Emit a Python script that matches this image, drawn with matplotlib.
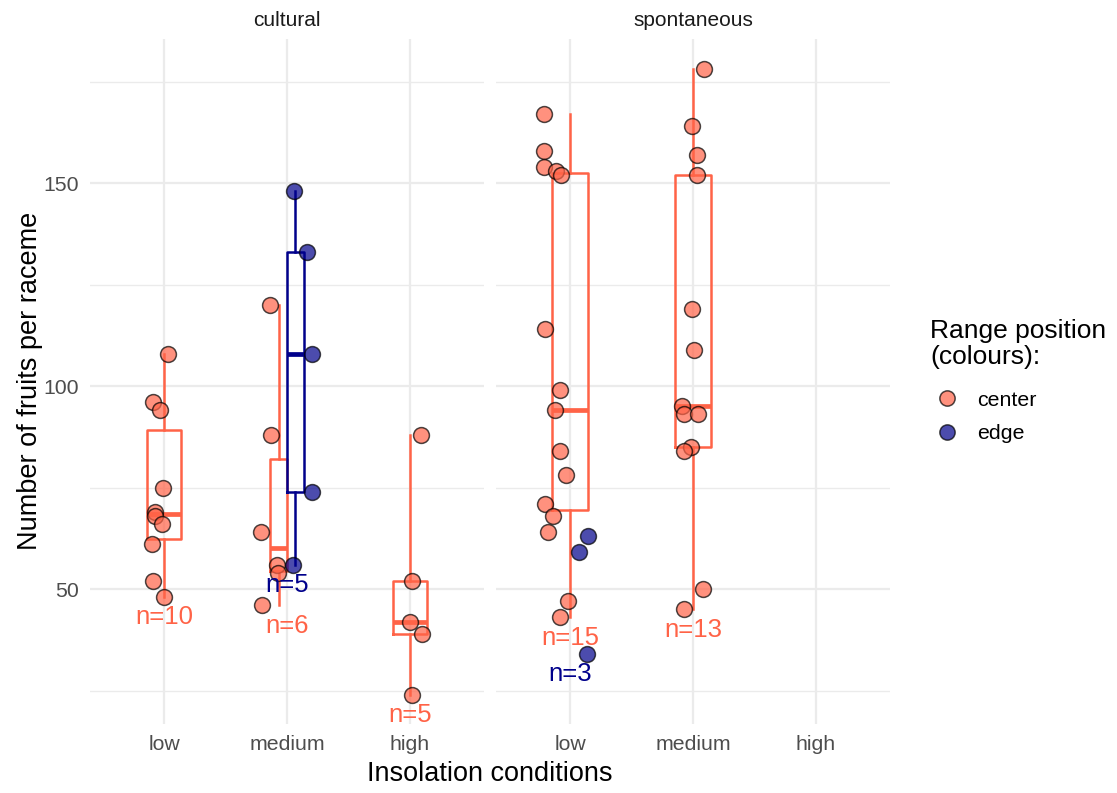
import matplotlib.pyplot as plt
from matplotlib.lines import Line2D

plt.rcParams['font.family'] = ['Liberation Sans', 'DejaVu Sans']

conditions = ['low', 'medium', 'high']
origins = ['cultural', 'spontaneous']
positions_range = ['center', 'edge']

# fruits per raceme
cult_low_center = [108, 96, 94, 75, 69, 68, 66, 61, 52, 48]
cult_med_center = [120, 88, 64, 56, 54, 46]
cult_med_edge = [148, 133, 108, 74, 56]
cult_high_center = [88, 52, 42, 39, 24]
spon_low_center = [167, 158, 154, 153, 152, 114, 99, 94, 84, 78, 71, 68, 64, 47, 43]
spon_low_edge = [63, 59, 34]
spon_med_center = [178, 164, 157, 152, 119, 109, 95, 93, 93, 85, 84, 50, 45]

# horizontal jitter of each point (in category units), as it looks in the picture
cult_low_center_jit = [0.03, -0.09, -0.03, -0.01, -0.07, -0.07, -0.02, -0.10, -0.09, 0.0]
cult_med_center_jit = [-0.14, -0.13, -0.21, -0.08, -0.07, -0.20]
cult_med_edge_jit = [0.06, 0.16, 0.20, 0.20, 0.05]
cult_high_center_jit = [0.09, 0.02, 0.0, 0.10, 0.02]
spon_low_center_jit = [-0.21, -0.21, -0.21, -0.11, -0.07, -0.20, -0.08, -0.12,
                       -0.08, -0.03, -0.20, -0.14, -0.18, -0.02, -0.08]
spon_low_edge_jit = [0.15, 0.07, 0.14]
spon_med_center_jit = [0.09, -0.01, 0.03, 0.03, -0.01, 0.01, -0.09, -0.07,
                       0.04, -0.02, -0.07, 0.08, -0.07]

# (panel, condition, range position, values, jitter)
groups = [
    ('cultural', 'low', 'center', cult_low_center, cult_low_center_jit),
    ('cultural', 'medium', 'center', cult_med_center, cult_med_center_jit),
    ('cultural', 'medium', 'edge', cult_med_edge, cult_med_edge_jit),
    ('cultural', 'high', 'center', cult_high_center, cult_high_center_jit),
    ('spontaneous', 'low', 'center', spon_low_center, spon_low_center_jit),
    ('spontaneous', 'low', 'edge', spon_low_edge, spon_low_edge_jit),
    ('spontaneous', 'medium', 'center', spon_med_center, spon_med_center_jit),
]

colours = {'center': 'tomato', 'edge': 'darkblue'}
box_width = {'cultural': 0.27, 'spontaneous': 0.29}
min_n_box = 4
grid_col = '#EBEBEB'

fig = plt.figure(figsize=(11.17, 7.93), dpi=100)
W, H = 1117, 793
axes = {}
for name, x0 in zip(origins, [90.2, 496.2]):
    ax = fig.add_axes([x0 / W, 1 - 724 / H, 393.6 / W, 685 / H])
    axes[name] = ax
    ax.set_xlim(-0.6, 2.6)
    ax.set_ylim(16.75, 185.5)
    ax.set_xticks(range(len(conditions)))
    ax.set_xticklabels(conditions)
    ax.set_yticks([50, 100, 150])
    ax.set_yticks([25, 75, 125, 175], minor=True)
    ax.grid(which='major', color=grid_col, lw=1.6)
    ax.grid(which='minor', axis='y', color=grid_col, lw=1.0)
    ax.set_axisbelow(True)
    for s in ax.spines.values():
        s.set_visible(False)
    ax.tick_params(which='both', length=0, labelsize=15.3, labelcolor='#4D4D4D', pad=8)
    ax.text(0.5, 1 + 19 / 685, name, transform=ax.transAxes, ha='center',
            va='center', fontsize=15, color='#1A1A1A')
axes['spontaneous'].tick_params(axis='y', labelleft=False)

for panel, cond, rp, vals, jit in groups:
    ax = axes[panel]
    xi = conditions.index(cond)
    c = colours[rp]
    # groups sharing this x with a box get dodged side by side
    sharing = [g for g in groups if g[0] == panel and g[1] == cond and len(g[3]) >= min_n_box]
    w = box_width[panel]
    if len(vals) >= min_n_box:
        k = len(sharing)
        idx = [g[2] for g in sharing].index(rp)
        bw = w / k
        pos = xi - w / 2 + bw * (idx + 0.5)
        ax.boxplot([vals], positions=[pos], widths=[bw], whis=(0, 100),
                   showfliers=False, showcaps=False, manage_ticks=False,
                   boxprops=dict(color=c, lw=1.8),
                   whiskerprops=dict(color=c, lw=1.8),
                   medianprops=dict(color=c, lw=3.4), zorder=2)
    ax.scatter([xi + j for j in jit], vals, s=130, facecolor=c, edgecolor='black',
               lw=1.1, alpha=0.7, zorder=3)
    ax.text(xi, min(vals) - 5, 'n=%d' % len(vals), ha='center', va='center',
            fontsize=18.5, color=c, zorder=4)

fig.text(490 / W, 1 - 774 / H, 'Insolation conditions', ha='center', va='center',
         fontsize=19.5)
fig.text(30 / W, 1 - 381 / H, 'Number of fruits per raceme', ha='center',
         va='center', rotation=90, fontsize=19.5)

# legend: title as its own text, entries below
fig.text(930 / W, 1 - 344 / H, 'Range position\n(colours):', ha='left', va='center',
         fontsize=19, linespacing=1.1)
handles = [Line2D([], [], marker='o', linestyle='', markersize=11,
                  markerfacecolor=colours[p], markeredgecolor='black',
                  markeredgewidth=1.1, alpha=0.7) for p in positions_range]
fig.legend(handles, positions_range, loc='center left',
           bbox_to_anchor=(926 / W, 1 - 417 / H), frameon=False, fontsize=15.4,
           borderpad=0, borderaxespad=0, handletextpad=0.38, labelspacing=0.68)

fig.savefig('out.png', dpi=100)
